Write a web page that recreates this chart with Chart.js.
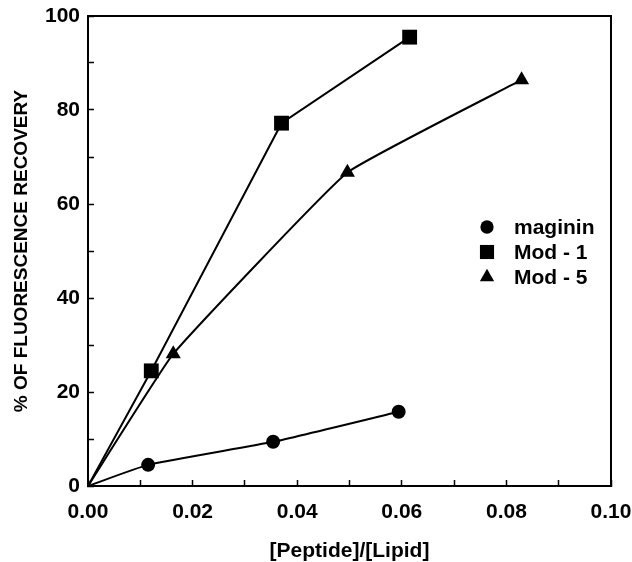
<!DOCTYPE html>
<html><head><meta charset="utf-8">
<script src="https://cdn.jsdelivr.net/npm/chart.js@4/dist/chart.umd.min.js"></script>
<style>html,body{margin:0;padding:0;background:#fff}</style>
</head><body>
<canvas id="c" width="632" height="562"></canvas>
<script>
// ---- data ----
const seriesNames = ['maginin', 'Mod - 1', 'Mod - 5'];
const pointStyles = ['circle', 'rect', 'triangle'];
const maginX = [0, 0.0115, 0.0354, 0.0594];
const maginY = [0, 4.5, 9.4, 15.8];
const mod1X = [0, 0.0121, 0.0370, 0.0615];
const mod1Y = [0, 24.5, 77.2, 95.5];
const mod5X = [0, 0.0163, 0.0496, 0.0829];
const mod5Y = [0, 28.1, 66.7, 86.4];
const xMin = 0, xMax = 0.10, xStep = 0.01;
const yMin = 0, yMax = 100, yStep = 10;
const xTitle = '[Peptide]/[Lipid]';
const yTitle = '% OF FLUORESCENCE RECOVERY';

const FONT = '"Liberation Sans", Arial, Helvetica, sans-serif';
const radii = {circle: 7, rect: 10.5, triangle: 8.7};
const tensions = [0.15, 0, 0.1];

function pts(xs, ys) { return xs.map((x, i) => ({x: x, y: ys[i]})); }
function mkDs(label, xs, ys, style, t) {
  return {
    label: label,
    data: pts(xs, ys),
    showLine: true,
    borderColor: '#000',
    backgroundColor: '#000',
    borderWidth: 2,
    pointStyle: style,
    pointRadius: xs.map((x, i) => i === 0 ? 0 : radii[style]),
    pointBorderWidth: 0,
    tension: t,
    fill: false
  };
}

const framePlugin = {
  id: 'frame',
  afterDraw(chart) {
    const {ctx, chartArea: a} = chart;
    ctx.save();
    ctx.strokeStyle = '#000';
    ctx.lineWidth = 2;
    ctx.strokeRect(a.left, a.top, a.right - a.left, a.bottom - a.top);
    ctx.restore();
  }
};

const legendPlugin = {
  id: 'insideLegend',
  afterDraw(chart) {
    const {ctx, chartArea: a} = chart;
    ctx.save();
    ctx.fillStyle = '#000';
    ctx.strokeStyle = '#000';
    ctx.font = 'bold 21px ' + FONT;
    ctx.textBaseline = 'middle';
    ctx.textAlign = 'left';
    const mx = a.right - 124, tx = a.right - 97;
    chart.data.datasets.forEach((ds, i) => {
      const y = a.top + 211 + i * 25;
      const st = ds.pointStyle;
      Chart.helpers.drawPoint(ctx, {pointStyle: st, radius: radii[st] * 0.95, rotation: 0, borderWidth: 0}, mx, y);
      ctx.fillStyle = '#000';
      ctx.fillText(ds.label, tx, y + 1);
    });
    ctx.restore();
  }
};

new Chart(document.getElementById('c'), {
  type: 'scatter',
  data: {
    datasets: [
      mkDs(seriesNames[0], maginX, maginY, pointStyles[0], tensions[0]),
      mkDs(seriesNames[1], mod1X, mod1Y, pointStyles[1], tensions[1]),
      mkDs(seriesNames[2], mod5X, mod5Y, pointStyles[2], tensions[2])
    ]
  },
  options: {
    responsive: false,
    animation: false,
    layout: {padding: {left: 0, top: 16, right: 21, bottom: 0}},
    plugins: {legend: {display: false}, tooltip: {enabled: false}},
    scales: {
      x: {
        type: 'linear', min: xMin, max: xMax,
        afterFit(s) { s.height = 76; s.paddingRight = 0; s.paddingLeft = 0; },
        border: {display: true, color: '#000', width: 2},
        grid: {drawOnChartArea: false, drawTicks: true, tickLength: -6, tickColor: '#000', tickWidth: 1.5},
        ticks: {
          stepSize: xStep, autoSkip: false, maxRotation: 0, padding: 20, color: '#000',
          font: {family: FONT, size: 21, weight: 'bold'},
          callback: (v, i) => (i % 2 === 0 ? Number(v).toFixed(2) : '')
        },
        title: {display: true, text: xTitle, color: '#000', padding: {top: 0, bottom: -2},
          font: {family: FONT, size: 21, weight: 'bold'}}
      },
      y: {
        type: 'linear', min: yMin, max: yMax,
        afterFit(s) { s.width = 88; s.paddingTop = 0; s.paddingBottom = 0; },
        border: {display: true, color: '#000', width: 2},
        grid: {drawOnChartArea: false, drawTicks: true, tickLength: -6, tickColor: '#000', tickWidth: 1.5},
        ticks: {
          stepSize: yStep, autoSkip: false, padding: 14, color: '#000',
          font: {family: FONT, size: 21, weight: 'bold'},
          callback: (v, i) => (i % 2 === 0 ? String(v) : '')
        },
        title: {display: true, text: yTitle, color: '#000', padding: {top: 10, bottom: 0},
          font: {family: FONT, size: 19, weight: 'bold'}}
      }
    }
  },
  plugins: [framePlugin, legendPlugin]
});
</script>
</body></html>
